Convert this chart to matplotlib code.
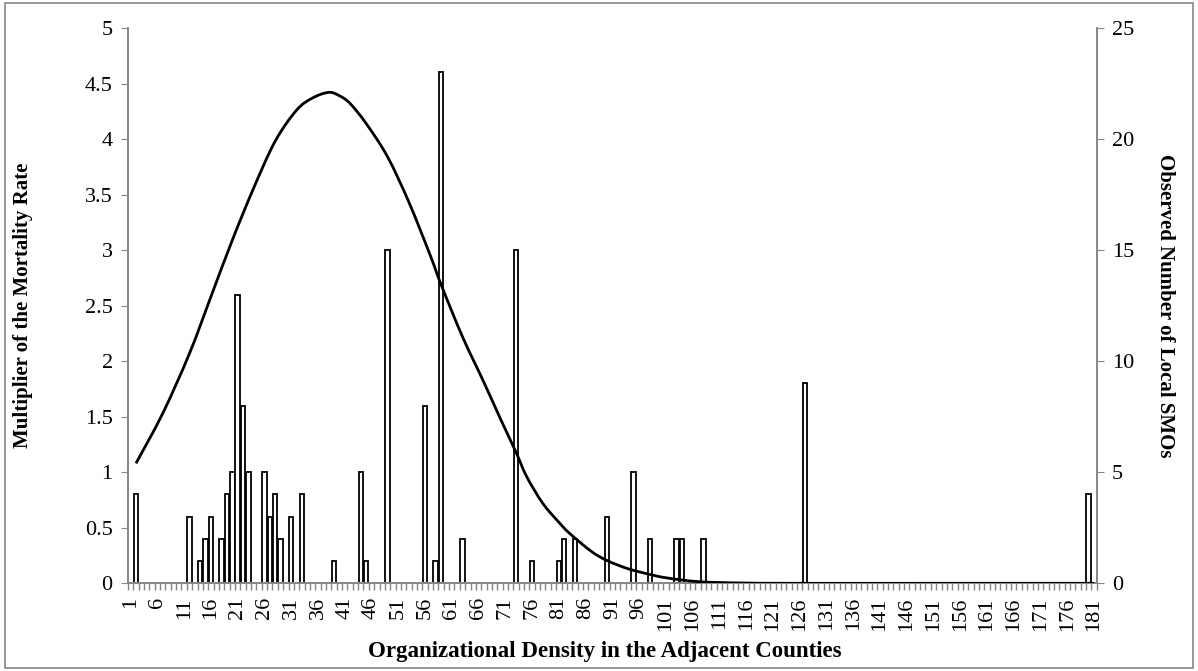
import matplotlib
matplotlib.use("Agg")
import matplotlib.pyplot as plt
from matplotlib.patches import Rectangle, PathPatch
from matplotlib.path import Path
import numpy as np

# observed number of local SMOs per density category (right axis)
bar_cats = [2, 12, 14, 15, 16, 18, 19, 20, 21, 22, 23, 26, 27, 28, 29, 31, 33,
            39, 44, 45, 49, 56, 58, 59, 63, 73, 76, 81, 82, 84, 90, 95, 98,
            103, 104, 108, 127, 180]
bar_counts = [4, 3, 1, 2, 3, 2, 4, 5, 13, 8, 5, 5, 3, 4, 2, 3, 4,
              1, 5, 1, 15, 8, 1, 23, 2, 15, 1, 1, 2, 2, 3, 5, 2,
              2, 2, 2, 9, 4]

# multiplier of the mortality rate (left axis)
curve_cats = [2, 7, 12, 16, 20, 24, 28, 32, 35, 38, 40, 42, 45, 49, 53, 57, 59,
              63, 67, 70, 73, 75, 78, 81, 83, 87, 90, 94, 98, 101, 107, 115,
              125, 150, 181]
curve_vals = [1.08, 1.53, 2.07, 2.58, 3.09, 3.56, 3.98, 4.26, 4.37, 4.42, 4.39,
              4.32, 4.14, 3.84, 3.43, 2.95, 2.69, 2.22, 1.81, 1.49, 1.18, 0.96,
              0.72, 0.55, 0.45, 0.29, 0.205, 0.13, 0.08, 0.05, 0.015, 0.003,
              0.0, 0.0, 0.0]

n_cats = 181
tick_cats = list(range(1, n_cats + 1, 5))


def smooth_path(xs, ys):
    # excel style smoothed line: catmull-rom segments as cubic beziers
    pts = np.column_stack([xs, ys]).astype(float)
    verts = [pts[0]]
    codes = [Path.MOVETO]
    for i in range(len(pts) - 1):
        p0 = pts[max(i - 1, 0)]
        p1 = pts[i]
        p2 = pts[i + 1]
        p3 = pts[min(i + 2, len(pts) - 1)]
        c1 = p1 + (p2 - p0) / 6.0
        c2 = p2 - (p3 - p1) / 6.0
        verts += [c1, c2, p2]
        codes += [Path.CURVE4] * 3
    return Path(verts, codes)


plt.rcParams["font.family"] = ["Liberation Serif", "DejaVu Serif"]
grey = "#868686"

fig = plt.figure(figsize=(11.98, 6.71), dpi=100)
ax = fig.add_axes([0.1068, 0.1307, 0.8087, 0.8276])
ax2 = ax.twinx()

ax2.bar(bar_cats, bar_counts, width=0.85, color="white", edgecolor="black",
        linewidth=1.3, zorder=2)
ax.add_patch(PathPatch(smooth_path(curve_cats, curve_vals), facecolor="none",
                       edgecolor="black", linewidth=2.0, zorder=3))

ax.set_zorder(ax2.get_zorder() + 1)
ax.patch.set_visible(False)

ax.set_xlim(0.5, n_cats + 0.5)
ax.set_ylim(0, 5)
ax2.set_ylim(0, 25)
ax.set_yticks(np.arange(0, 5.01, 0.5))
ax.set_yticklabels(["0", "0.5", "1", "1.5", "2", "2.5", "3", "3.5", "4", "4.5", "5"])
ax2.set_yticks(range(0, 26, 5))

ax.set_xticks(tick_cats)
ax.set_xticklabels([str(c) for c in tick_cats], rotation=90)
ax.set_xticks(np.arange(0.5, n_cats + 1, 1), minor=True)
ax.tick_params(axis="x", which="major", length=0, pad=10, labelsize=16)
ax.tick_params(axis="x", which="minor", length=5, color=grey, width=1)
ax.tick_params(axis="y", length=5, color=grey, labelsize=16, pad=6)
ax2.tick_params(axis="y", length=5, color=grey, labelsize=16, pad=6)

for a in (ax, ax2):
    a.spines["top"].set_visible(False)
    for s in ("left", "right", "bottom"):
        a.spines[s].set_color(grey)
        a.spines[s].set_linewidth(1.2)

ax.set_xlabel("Organizational Density in the Adjacent Counties",
              fontsize=16.5, fontweight="bold", va="center")
ax.xaxis.set_label_coords(0.492, -0.123)
ax.set_ylabel("Multiplier of the Mortality Rate", fontsize=15,
              fontweight="bold", va="center")
ax.yaxis.set_label_coords(-0.108, 0.5)
ax2.set_ylabel("Observed Number of Local SMOs", fontsize=15,
               fontweight="bold", rotation=270, va="center")
ax2.yaxis.set_label_coords(1.070, 0.5)

fig.patches.append(Rectangle((5 / 1198, 3 / 671), 1188 / 1198, 665 / 671,
                             transform=fig.transFigure, fill=False,
                             edgecolor=grey, linewidth=1.2))

fig.savefig("out.png", dpi=100)
